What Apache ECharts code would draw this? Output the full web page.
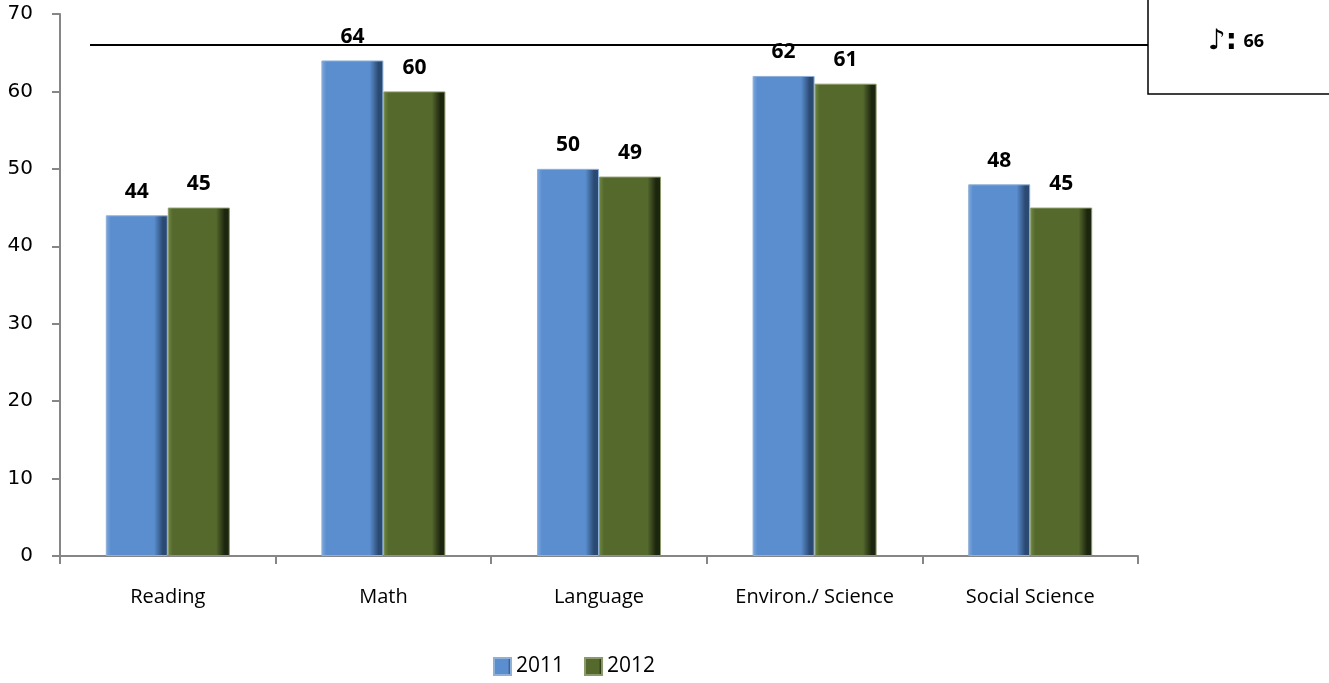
<!DOCTYPE html>
<html><head><meta charset="utf-8">
<script src="https://cdn.jsdelivr.net/npm/echarts@6/dist/echarts.min.js"></script>
<style>html,body{margin:0;padding:0;background:#fff}#c{width:1329px;height:683px}</style>
</head><body><div id="c"></div>
<script>
const categories = ['Reading', 'Math', 'Language', 'Environ./ Science', 'Social Science'];
const values2011 = [44, 64, 50, 62, 48];
const values2012 = [45, 60, 49, 61, 45];
const targetValue = 66;
const targetSymbol = '\u266A:';
const targetLabel = '66';
const yTicks = [0, 10, 20, 30, 40, 50, 60, 70];

const font = '"Open Sans", Lato, sans-serif';
function grad(light, mid, dark) {
  return new echarts.graphic.LinearGradient(0, 0, 1, 0, [
    {offset: 0, color: light}, {offset: 0.08, color: mid},
    {offset: 0.78, color: mid}, {offset: 0.92, color: dark}, {offset: 1, color: dark}
  ]);
}
const chart = echarts.init(document.getElementById('c'));
const labelStyle = {show: true, position: 'top', distance: 13, fontFamily: font, fontWeight: 'bold', fontSize: 21, color: '#000'};
chart.setOption({
  animation: false,
  grid: {left: 60, right: 191, top: 14, bottom: 127},
  legend: {
    top: 656, left: 493, padding: 0, itemWidth: 17, itemHeight: 17, itemGap: 20,
    icon: 'rect',
    textStyle: {fontFamily: font, fontSize: 21, color: '#000'},
    data: ['2011', '2012']
  },
  xAxis: {
    type: 'category', data: categories,
    axisLine: {lineStyle: {color: '#868686', width: 2}},
    axisTick: {show: true, interval: 0, inside: false, length: 8, lineStyle: {color: '#868686', width: 2}},
    axisLabel: {interval: 0, fontFamily: font, fontSize: 20, color: '#000', margin: 31}
  },
  yAxis: {
    type: 'value', min: 0, max: 70, interval: 10,
    axisLine: {show: true, lineStyle: {color: '#868686', width: 2}},
    axisTick: {show: true, length: 8, lineStyle: {color: '#868686', width: 2}},
    splitLine: {show: false},
    axisLabel: {fontFamily: '"DejaVu Sans", sans-serif', fontSize: 20, color: '#000', margin: 27}
  },
  series: [
    {name: '2011', type: 'bar', data: values2011, barWidth: 62, barGap: '0%',
     itemStyle: {color: grad('#7FA9DE', '#5A8ECF', '#2B4A73'), borderColor: '#8FB0D8', borderWidth: 1},
     label: labelStyle},
    {name: '2012', type: 'bar', data: values2012, barWidth: 62,
     itemStyle: {color: grad('#6F8A43', '#55692D', '#1C250E'), borderColor: '#8A9A6A', borderWidth: 1},
     label: labelStyle}
  ]
});
const y = chart.convertToPixel({yAxisIndex: 0}, targetValue);
chart.setOption({
  graphic: [
    {type: 'line', shape: {x1: 90, y1: y, x2: 1148, y2: y}, style: {stroke: '#000', lineWidth: 2}},
    {type: 'rect', shape: {x: 1148, y: -2, width: 182, height: 96}, style: {fill: '#fff', stroke: '#000', lineWidth: 1.5}},
    {type: 'text', x: 1236, y: 42, style: {
      text: '{s|' + targetSymbol + '}  {n|' + targetLabel + '}',
      align: 'center', verticalAlign: 'middle',
      rich: {
        s: {fontFamily: '"DejaVu Sans", sans-serif', fontSize: 28, fill: '#000', fontWeight: 'bold'},
        n: {fontFamily: font, fontSize: 18, fill: '#000', fontWeight: 'bold'}
      }
    }}
  ]
});
</script></body></html>
